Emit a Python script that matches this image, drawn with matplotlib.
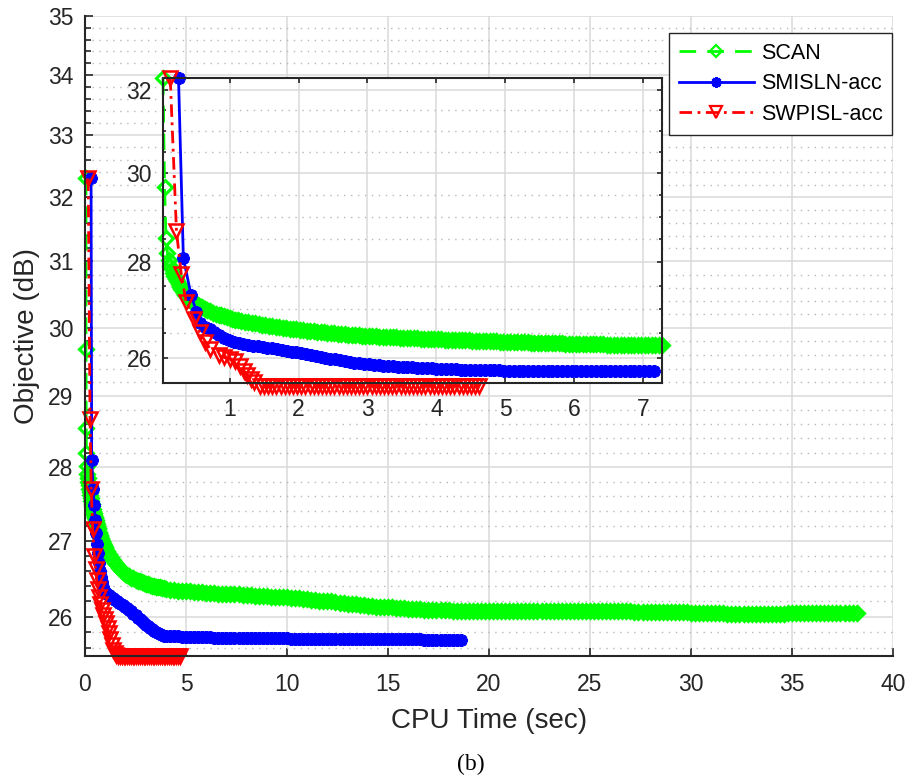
import matplotlib
matplotlib.use("Agg")
import matplotlib.pyplot as plt
from matplotlib.ticker import FixedLocator, FixedFormatter, NullFormatter

plt.rcParams['font.family'] = ['Liberation Sans', 'DejaVu Sans']

# ---------------- data: objective (dB) versus CPU time (sec) ----------------
series_names = ["SCAN", "SMISLN-acc", "SWPISL-acc"]

# main panel
scan_time = [
    0.05, 0.05, 0.06, 0.07, 0.08,
    0.100, 0.125, 0.150, 0.175, 0.200, 0.225, 0.250, 0.275, 0.300, 0.325,
    0.350, 0.375, 0.400, 0.425, 0.450, 0.475, 0.500, 0.525, 0.550, 0.575,
    0.600, 0.625, 0.650, 0.675, 0.700, 0.725, 0.750, 0.775, 0.800, 0.825,
    0.850, 0.875, 0.900, 0.925, 0.950, 0.975, 1.000,
    1.1, 1.2, 1.3, 1.4, 1.5, 1.6, 1.7, 1.8, 1.9, 2.0,
    2.1, 2.2, 2.3, 2.4, 2.5, 2.6, 2.7, 2.8, 2.9, 3.0,
    3.1, 3.2, 3.3, 3.4, 3.5, 3.6, 3.7, 3.8, 3.9, 4.0,
    4.2, 4.4, 4.6, 4.8, 5.0, 5.2, 5.4, 5.6, 5.8, 6.0,
    6.2, 6.4, 6.6, 6.8, 7.0, 7.2, 7.4, 7.6, 7.8, 8.0,
    8.2, 8.4, 8.6, 8.8, 9.0, 9.2, 9.4, 9.6, 9.8, 10.0,
    10.2, 10.4, 10.6, 10.8, 11.0, 11.2, 11.4, 11.6, 11.8, 12.0,
    12.2, 12.4, 12.6, 12.8, 13.0, 13.2, 13.4, 13.6, 13.8, 14.0,
    14.2, 14.4, 14.6, 14.8, 15.0, 15.2, 15.4, 15.6, 15.8, 16.0,
    16.2, 16.4, 16.6, 16.8, 17.0, 17.2, 17.4, 17.6, 17.8, 18.0,
    18.2, 18.4, 18.6, 18.8, 19.0, 19.2, 19.4, 19.6, 19.8, 20.0,
    20.2, 20.4, 20.6, 20.8, 21.0, 21.2, 21.4, 21.6, 21.8, 22.0,
    22.2, 22.4, 22.6, 22.8, 23.0, 23.2, 23.4, 23.6, 23.8, 24.0,
    24.2, 24.4, 24.6, 24.8, 25.0, 25.2, 25.4, 25.6, 25.8, 26.0,
    26.2, 26.4, 26.6, 26.8, 27.0, 27.2, 27.4, 27.6, 27.8, 28.0,
    28.2, 28.4, 28.6, 28.8, 29.0, 29.2, 29.4, 29.6, 29.8, 30.0,
    30.2, 30.4, 30.6, 30.8, 31.0, 31.2, 31.4, 31.6, 31.8, 32.0,
    32.2, 32.4, 32.6, 32.8, 33.0, 33.2, 33.4, 33.6, 33.8, 34.0,
    34.2, 34.4, 34.6, 34.8, 35.0, 35.2, 35.4, 35.6, 35.8, 36.0,
    36.2, 36.4, 36.6, 36.8, 37.0, 37.2, 37.4, 37.6, 37.8, 38.0,
    38.2,
]
scan_obj = [
    32.30, 29.68, 28.55, 28.20, 28.02,
    27.90, 27.85, 27.80, 27.75, 27.70, 27.65, 27.61, 27.57, 27.53, 27.49,
    27.46, 27.43, 27.40, 27.37, 27.35, 27.32, 27.30, 27.27, 27.25, 27.22,
    27.20, 27.17, 27.15, 27.12, 27.10, 27.08, 27.06, 27.04, 27.02, 27.00,
    26.99, 26.97, 26.96, 26.94, 26.93, 26.91, 26.90,
    26.86, 26.82, 26.78, 26.74, 26.70, 26.67, 26.64, 26.61, 26.58, 26.56,
    26.54, 26.53, 26.51, 26.50, 26.48, 26.47, 26.46, 26.45, 26.44, 26.43,
    26.42, 26.41, 26.40, 26.40, 26.39, 26.38, 26.38, 26.37, 26.37, 26.36,
    26.35, 26.35, 26.34, 26.34, 26.33, 26.33, 26.32, 26.32, 26.32, 26.31,
    26.31, 26.31, 26.30, 26.30, 26.30, 26.29, 26.29, 26.29, 26.28, 26.28,
    26.28, 26.27, 26.27, 26.27, 26.27, 26.26, 26.26, 26.26, 26.25, 26.25,
    26.24, 26.24, 26.24, 26.23, 26.23, 26.22, 26.22, 26.21, 26.21, 26.20,
    26.20, 26.19, 26.18, 26.18, 26.17, 26.16, 26.16, 26.15, 26.15, 26.14,
    26.14, 26.13, 26.13, 26.12, 26.12, 26.12, 26.11, 26.11, 26.11, 26.10,
    26.10, 26.10, 26.10, 26.09, 26.09, 26.09, 26.09, 26.09, 26.09, 26.09,
    26.08, 26.08, 26.08, 26.08, 26.08, 26.08, 26.08, 26.08, 26.08, 26.08,
    26.08, 26.08, 26.08, 26.07, 26.07, 26.07, 26.07, 26.07, 26.07, 26.07,
    26.07, 26.07, 26.07, 26.07, 26.07, 26.07, 26.07, 26.07, 26.07, 26.07,
    26.07, 26.07, 26.07, 26.07, 26.07, 26.07, 26.07, 26.07, 26.07, 26.07,
    26.07, 26.07, 26.07, 26.07, 26.07, 26.06, 26.06, 26.06, 26.06, 26.06,
    26.06, 26.06, 26.06, 26.06, 26.06, 26.06, 26.06, 26.06, 26.06, 26.05,
    26.05, 26.05, 26.05, 26.05, 26.05, 26.05, 26.05, 26.05, 26.04, 26.04,
    26.04, 26.04, 26.04, 26.04, 26.04, 26.04, 26.04, 26.04, 26.04, 26.04,
    26.04, 26.04, 26.04, 26.05, 26.05, 26.05, 26.05, 26.05, 26.05, 26.05,
    26.05, 26.05, 26.05, 26.05, 26.05, 26.05, 26.05, 26.05, 26.05, 26.05,
    26.05,
]

smisln_time = [
    0.30, 0.33, 0.40, 0.45, 0.50, 0.55, 0.60, 0.65, 0.70, 0.75,
    0.80, 0.85, 0.90, 0.95, 1.00,
    1.1, 1.2, 1.3, 1.4, 1.5, 1.6, 1.7, 1.8, 1.9, 2.0,
    2.1, 2.2, 2.3, 2.4, 2.5, 2.6, 2.7, 2.8, 2.9, 3.0,
    3.1, 3.2, 3.3, 3.4, 3.5, 3.6, 3.7, 3.8, 3.9, 4.0,
    4.2, 4.4, 4.6, 4.8, 5.0, 5.2, 5.4, 5.6, 5.8, 6.0,
    6.2, 6.4, 6.6, 6.8, 7.0, 7.2, 7.4, 7.6, 7.8, 8.0,
    8.2, 8.4, 8.6, 8.8, 9.0, 9.2, 9.4, 9.6, 9.8, 10.0,
    10.2, 10.4, 10.6, 10.8, 11.0, 11.2, 11.4, 11.6, 11.8, 12.0,
    12.2, 12.4, 12.6, 12.8, 13.0, 13.2, 13.4, 13.6, 13.8, 14.0,
    14.2, 14.4, 14.6, 14.8, 15.0, 15.2, 15.4, 15.6, 15.8, 16.0,
    16.2, 16.4, 16.6, 16.8, 17.0, 17.2, 17.4, 17.6, 17.8, 18.0,
    18.2, 18.4, 18.6,
]
smisln_obj = [
    32.30, 28.10, 27.70, 27.48, 27.28, 27.10, 26.95, 26.83, 26.70, 26.60,
    26.52, 26.45, 26.39, 26.35, 26.32,
    26.30, 26.28, 26.26, 26.24, 26.22, 26.20, 26.18, 26.17, 26.15, 26.13,
    26.11, 26.09, 26.07, 26.04, 26.02, 25.99, 25.97, 25.95, 25.92, 25.90,
    25.88, 25.86, 25.84, 25.82, 25.80, 25.79, 25.78, 25.77, 25.76, 25.76,
    25.75, 25.75, 25.75, 25.74, 25.74, 25.74, 25.74, 25.74, 25.74, 25.74,
    25.74, 25.73, 25.73, 25.73, 25.73, 25.73, 25.73, 25.73, 25.73, 25.73,
    25.73, 25.73, 25.73, 25.73, 25.73, 25.73, 25.73, 25.73, 25.73, 25.73,
    25.72, 25.72, 25.72, 25.72, 25.72, 25.72, 25.72, 25.72, 25.72, 25.72,
    25.72, 25.72, 25.72, 25.72, 25.72, 25.72, 25.72, 25.72, 25.72, 25.72,
    25.72, 25.71, 25.71, 25.71, 25.71, 25.71, 25.71, 25.71, 25.71, 25.71,
    25.71, 25.71, 25.71, 25.70, 25.70, 25.70, 25.70, 25.70, 25.70, 25.70,
    25.70, 25.70, 25.70,
]

swpisl_time = [
    0.16, 0.25, 0.31, 0.38, 0.46, 0.52, 0.58, 0.64, 0.70, 0.76,
    0.83, 0.90, 0.97, 1.05, 1.12, 1.19, 1.26, 1.33, 1.40, 1.47, 1.55,
    1.64, 1.73, 1.82, 1.91, 2.00, 2.09, 2.18, 2.27, 2.36, 2.45,
    2.54, 2.63, 2.72, 2.81, 2.90, 2.99, 3.08, 3.17, 3.26, 3.35,
    3.44, 3.53, 3.62, 3.71, 3.80, 3.89, 3.98, 4.07, 4.16, 4.25,
    4.34, 4.43, 4.52, 4.61, 4.70,
]
swpisl_obj = [
    32.30, 28.68, 27.70, 27.15, 26.80, 26.62, 26.48, 26.36, 26.25, 26.16,
    26.09, 26.02, 25.97, 25.92, 25.86, 25.79, 25.71, 25.64, 25.58, 25.54, 25.51,
    25.50, 25.50, 25.50, 25.50, 25.50, 25.50, 25.50, 25.50, 25.50, 25.50,
    25.50, 25.50, 25.50, 25.50, 25.50, 25.50, 25.50, 25.50, 25.50, 25.50,
    25.50, 25.50, 25.50, 25.50, 25.50, 25.50, 25.50, 25.50, 25.50, 25.50,
    25.50, 25.50, 25.50, 25.50, 25.50,
]

# zoomed panel
inset_scan_time = [
    0.035, 0.058, 0.078, 0.10, 0.12,
    0.14, 0.16, 0.18, 0.20, 0.22, 0.24, 0.26, 0.28, 0.30, 0.32,
    0.34, 0.36, 0.38, 0.40, 0.42, 0.44, 0.46, 0.48, 0.50, 0.52,
    0.54, 0.56, 0.58, 0.60,
    0.64, 0.68, 0.72, 0.76, 0.80, 0.84, 0.88, 0.92, 0.96, 1.00,
    1.04, 1.08,
    1.12, 1.17, 1.22, 1.27, 1.32, 1.37, 1.42, 1.47, 1.52, 1.57,
    1.62, 1.67, 1.72, 1.77, 1.82, 1.87, 1.92, 1.97, 2.02, 2.07,
    2.12, 2.17, 2.22, 2.27, 2.32, 2.37, 2.42, 2.47, 2.52, 2.57,
    2.62, 2.67, 2.72, 2.77, 2.82, 2.87, 2.92, 2.97, 3.02, 3.07,
    3.12, 3.17, 3.22, 3.27, 3.32, 3.37, 3.42, 3.47, 3.52, 3.57,
    3.62, 3.67, 3.72, 3.77, 3.82, 3.87, 3.92, 3.97, 4.02, 4.07,
    4.12, 4.17, 4.22, 4.27, 4.32, 4.37, 4.42, 4.47, 4.52, 4.57,
    4.62, 4.67, 4.72, 4.77, 4.82, 4.87, 4.92, 4.97, 5.02, 5.07,
    5.12, 5.17, 5.22, 5.27, 5.32, 5.37, 5.42, 5.47, 5.52, 5.57,
    5.62, 5.67, 5.72, 5.77, 5.82, 5.87, 5.92, 5.97, 6.02, 6.07,
    6.12, 6.17, 6.22, 6.27, 6.32, 6.37, 6.42, 6.47, 6.52, 6.57,
    6.62, 6.67, 6.72, 6.77, 6.82, 6.87, 6.92, 6.97, 7.02, 7.07,
    7.12, 7.17, 7.22, 7.27,
]
inset_scan_obj = [
    32.30, 29.68, 28.54, 28.21, 28.05,
    27.93, 27.85, 27.78, 27.71, 27.65, 27.59, 27.53, 27.48, 27.43, 27.38,
    27.34, 27.30, 27.27, 27.24, 27.21, 27.18, 27.16, 27.14, 27.12, 27.10,
    27.08, 27.07, 27.05, 27.04,
    27.01, 26.98, 26.96, 26.93, 26.91, 26.89, 26.87, 26.85, 26.83, 26.81,
    26.79, 26.78,
    26.77, 26.76, 26.74, 26.73, 26.72, 26.71, 26.69, 26.68, 26.67, 26.66,
    26.65, 26.64, 26.63, 26.62, 26.61, 26.60, 26.59, 26.58, 26.57, 26.56,
    26.55, 26.54, 26.54, 26.53, 26.52, 26.52, 26.51, 26.50, 26.50, 26.49,
    26.48, 26.48, 26.47, 26.47, 26.46, 26.46, 26.45, 26.45, 26.44, 26.44,
    26.44, 26.43, 26.43, 26.43, 26.42, 26.42, 26.42, 26.41, 26.41, 26.41,
    26.40, 26.40, 26.40, 26.39, 26.39, 26.39, 26.39, 26.38, 26.38, 26.38,
    26.37, 26.37, 26.37, 26.37, 26.36, 26.36, 26.36, 26.36, 26.35, 26.35,
    26.35, 26.35, 26.34, 26.34, 26.34, 26.34, 26.33, 26.33, 26.33, 26.33,
    26.33, 26.32, 26.32, 26.32, 26.32, 26.31, 26.31, 26.31, 26.31, 26.31,
    26.30, 26.30, 26.30, 26.30, 26.30, 26.29, 26.29, 26.29, 26.29, 26.29,
    26.29, 26.28, 26.28, 26.28, 26.28, 26.28, 26.28, 26.27, 26.27, 26.27,
    26.27, 26.27, 26.27, 26.27, 26.26, 26.26, 26.26, 26.26, 26.26, 26.26,
    26.26, 26.26, 26.26, 26.26,
]

inset_smisln_time = [
    0.26, 0.33, 0.44, 0.52, 0.575,
    0.64, 0.71, 0.78, 0.85, 0.92, 0.99, 1.06, 1.13, 1.20, 1.27,
    1.34, 1.41, 1.48, 1.55, 1.62, 1.69, 1.76, 1.83, 1.90, 1.97,
    2.04, 2.11, 2.18, 2.25, 2.32, 2.39, 2.46, 2.53, 2.60, 2.67,
    2.74, 2.81, 2.88, 2.95, 3.02, 3.09, 3.16, 3.23, 3.30, 3.37,
    3.44, 3.51, 3.58, 3.65, 3.72, 3.79, 3.86, 3.93, 4.00, 4.07,
    4.14, 4.21, 4.28, 4.35, 4.42, 4.49, 4.56, 4.63, 4.70, 4.77,
    4.84, 4.91, 4.98, 5.05, 5.12, 5.19, 5.26, 5.33, 5.40, 5.47,
    5.54, 5.61, 5.68, 5.75, 5.82, 5.89, 5.96, 6.03, 6.10, 6.17,
    6.24, 6.31, 6.38, 6.45, 6.52, 6.59, 6.66, 6.73, 6.80, 6.87,
    6.94, 7.01, 7.08, 7.15,
]
inset_smisln_obj = [
    32.30, 28.10, 27.31, 26.95, 26.72,
    26.64, 26.58, 26.52, 26.47, 26.41, 26.36, 26.32, 26.30, 26.28, 26.27,
    26.25, 26.24, 26.22, 26.21, 26.20, 26.18, 26.17, 26.15, 26.13, 26.11,
    26.09, 26.07, 26.06, 26.04, 26.02, 26.00, 25.98, 25.97, 25.95, 25.93,
    25.91, 25.90, 25.89, 25.88, 25.87, 25.86, 25.85, 25.84, 25.84, 25.83,
    25.82, 25.82, 25.81, 25.81, 25.80, 25.80, 25.79, 25.79, 25.78, 25.78,
    25.77, 25.77, 25.77, 25.76, 25.76, 25.76, 25.76, 25.75, 25.75, 25.75,
    25.75, 25.75, 25.74, 25.74, 25.74, 25.74, 25.74, 25.74, 25.74, 25.74,
    25.74, 25.74, 25.74, 25.74, 25.74, 25.74, 25.74, 25.74, 25.73, 25.73,
    25.73, 25.73, 25.73, 25.73, 25.73, 25.73, 25.73, 25.73, 25.73, 25.73,
    25.73, 25.73, 25.73, 25.73,
]

inset_swpisl_time = [
    0.14, 0.23, 0.30, 0.37, 0.48, 0.57, 0.65, 0.72, 0.84, 0.92,
    1.01, 1.08, 1.15, 1.21, 1.26, 1.31, 1.36,
    1.44, 1.50, 1.56, 1.62, 1.68, 1.74, 1.80, 1.86, 1.92, 1.98,
    2.04, 2.10, 2.16, 2.22, 2.28, 2.34, 2.40, 2.46, 2.52, 2.58,
    2.64, 2.70, 2.76, 2.82, 2.88, 2.94, 3.00, 3.06, 3.12, 3.18,
    3.24, 3.30, 3.36, 3.42, 3.48, 3.54, 3.60, 3.66, 3.72, 3.78,
    3.84, 3.90, 3.96, 4.02, 4.08, 4.14, 4.20, 4.26, 4.32, 4.38,
    4.44, 4.50, 4.56, 4.62,
]
inset_swpisl_obj = [
    32.30, 28.69, 27.74, 27.15, 26.79, 26.52, 26.33, 26.18, 26.05, 26.01,
    25.97, 25.93, 25.84, 25.74, 25.66, 25.58, 25.52,
    25.45, 25.45, 25.45, 25.45, 25.45, 25.45, 25.45, 25.45, 25.45, 25.45,
    25.45, 25.45, 25.45, 25.45, 25.45, 25.45, 25.45, 25.45, 25.45, 25.45,
    25.45, 25.45, 25.45, 25.45, 25.45, 25.45, 25.45, 25.45, 25.45, 25.45,
    25.45, 25.45, 25.45, 25.45, 25.45, 25.45, 25.45, 25.45, 25.45, 25.45,
    25.45, 25.45, 25.45, 25.45, 25.45, 25.45, 25.45, 25.45, 25.45, 25.45,
    25.45, 25.45, 25.45, 25.45,
]

main_xticks = [0, 5, 10, 15, 20, 25, 30, 35, 40]
main_yticks = [26, 27, 28, 29, 30, 31, 32, 33, 34, 35]
inset_xticks = [1, 2, 3, 4, 5, 6, 7]
inset_yticks = [26, 28, 30, 32]

# ---------------- styling ----------------
TXT = '#262626'
line_styles = [
    dict(color=(0, 1, 0), lw=2.0, linestyle=(0, (6, 4)), marker='D', ms=7.5,
         mfc='none', mew=2.2),
    dict(color=(0, 0, 1), lw=2.0, linestyle='-', marker=(8, 2, 0), ms=9,
         mew=2.6),
    dict(color=(1, 0, 0), lw=2.0, linestyle=(0, (4.5, 2, 1, 2)), marker='v',
         ms=9.5, mfc='none', mew=1.8),
]


def minor_positions(lo, hi, step, majors):
    vals = []
    v = lo
    while v <= hi + 1e-9:
        if all(abs(v - m) > 1e-6 for m in majors):
            vals.append(round(v, 3))
        v += step
    return vals


def style_axes(a, xlim, ylim, xticks, yticks, yminor, fs, pad_x, pad_y,
               major_len, minor_len, boxed):
    a.set_yscale('log')
    a.set_xlim(*xlim)
    a.set_ylim(*ylim)
    a.xaxis.set_major_locator(FixedLocator(xticks))
    a.xaxis.set_major_formatter(FixedFormatter([str(t) for t in xticks]))
    a.yaxis.set_major_locator(FixedLocator(yticks))
    a.yaxis.set_major_formatter(FixedFormatter([str(t) for t in yticks]))
    a.yaxis.set_minor_locator(FixedLocator(yminor))
    a.yaxis.set_minor_formatter(NullFormatter())
    a.xaxis.set_minor_locator(FixedLocator([]))
    a.grid(True, which='major', color='#dadada', lw=1.1, ls='-')
    a.grid(True, which='minor', axis='y', color='#b8b8b8', lw=1.0,
           ls=(0, (1, 4)))
    a.set_axisbelow(True)
    for s in a.spines.values():
        s.set_color(TXT)
        s.set_linewidth(1.5)
    if not boxed:
        a.spines['top'].set_visible(False)
        a.spines['right'].set_visible(False)
    a.tick_params(which='both', direction='in', colors=TXT, width=1.2,
                  top=boxed, right=boxed, labelsize=fs)
    a.tick_params(which='major', length=major_len)
    a.tick_params(which='minor', length=minor_len)
    a.tick_params(axis='x', pad=pad_x)
    a.tick_params(axis='y', pad=pad_y)


fig = plt.figure(figsize=(9.12, 7.80), dpi=100)

ax = fig.add_axes([85 / 912, 124 / 780, 808 / 912, 639.7 / 780])
main_data = [(scan_time, scan_obj), (smisln_time, smisln_obj),
             (swpisl_time, swpisl_obj)]
handles = []
for (t, y), st in zip(main_data, line_styles):
    h, = ax.plot(t, y, clip_on=False, **st)
    handles.append(h)

style_axes(ax, (0, 40), (25.5, 35), main_xticks, main_yticks,
           minor_positions(25.6, 34.8, 0.2, main_yticks),
           fs=16.5, pad_x=12.5, pad_y=8.5, major_len=6, minor_len=4,
           boxed=False)

ax.set_xlabel("CPU Time (sec)", fontsize=20, color=TXT)
ax.xaxis.label.set_va('center')
ax.xaxis.set_label_coords(0.5, -0.1016)
ax.set_ylabel("Objective (dB)", fontsize=20, color=TXT)
ax.yaxis.label.set_va('center')
ax.yaxis.set_label_coords(-0.0718, 0.5)

leg = ax.legend(handles, series_names, loc='upper right',
                bbox_to_anchor=(0.999, 0.974), fontsize=15.5, frameon=True,
                fancybox=False, framealpha=1, edgecolor=TXT, borderpad=0.45,
                labelspacing=0.45, handlelength=3.5, handletextpad=0.3,
                borderaxespad=0)
leg.get_frame().set_linewidth(1.0)
for txt in leg.get_texts():
    txt.set_color('black')
# legend markers a little smaller than the plotted ones
for lh, ms, mew in zip(leg.get_lines(), [6.5, 7.5, 8.5], [1.6, 2.2, 1.6]):
    lh.set_markersize(ms)
    lh.set_markeredgewidth(mew)

# zoomed panel
ins = fig.add_axes([163 / 912, 397 / 780, 499 / 912, 305 / 780])
ins.set_facecolor('white')
inset_data = [(inset_scan_time, inset_scan_obj),
              (inset_smisln_time, inset_smisln_obj),
              (inset_swpisl_time, inset_swpisl_obj)]
for (t, y), st in zip(inset_data, line_styles):
    ins.plot(t, y, clip_on=False, **st)

style_axes(ins, (0.035, 7.27), (25.5, 32.3), inset_xticks, inset_yticks,
           minor_positions(26.0, 32.0, 0.5, inset_yticks),
           fs=16.5, pad_x=11, pad_y=8, major_len=3.8, minor_len=2.5,
           boxed=True)

fig.text(471 / 912, 1 - 764 / 780, "(b)", fontsize=17, ha='center',
         va='center', family=['Liberation Serif', 'DejaVu Serif'],
         color='black')

fig.savefig("out.png", dpi=100)
